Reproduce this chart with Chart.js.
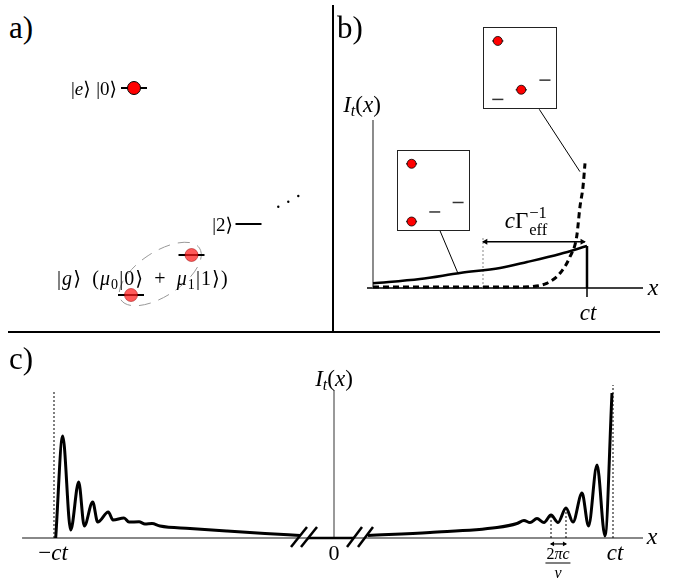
<!DOCTYPE html>
<html><head><meta charset="utf-8">
<script src="https://cdn.jsdelivr.net/npm/chart.js@4.4.1/dist/chart.umd.min.js"></script>
<style>
body{margin:0;background:#fff;width:673px;height:578px;position:relative;overflow:hidden;font-family:"Times New Roman","Liberation Serif","DejaVu Serif",serif;color:#000;}
canvas{position:absolute;}
.t{position:absolute;white-space:nowrap;line-height:1;}
.t sub{font-size:70%;vertical-align:-0.28em;line-height:0;}
.ss{display:inline-block;vertical-align:-0.42em;font-size:72%;line-height:1.0;text-align:left;margin-left:1px;}
.frac{display:inline-block;text-align:center;}
.frac .n{display:block;border-bottom:1.3px solid #000;padding:0 1px 1px 1px;}
.frac .d{display:block;padding-top:1px;}
.box{position:absolute;border:1px solid #222;background:#fff;box-sizing:border-box;}
.rule{position:absolute;background:#000;}
.sp{display:inline-block;width:0.3em;}
.sp2{display:inline-block;width:0.5em;}
</style></head><body>
<div class="rule" style="left:332px;top:5px;width:1.5px;height:327px"></div>
<div class="rule" style="left:8px;top:331px;width:652px;height:1.5px"></div>
<script>
// ---------------- DATA ----------------
// Panel c: I_t(x), x in units of ct (left front, right front)
const cLeftX  = [-0.9975,-0.9724,-0.9437,-0.9151,-0.8950,-0.8649,-0.8470,-0.8090,-0.7921,-0.7527,-0.7348,-0.6989,-0.6774,-0.6523,-0.6237,-0.5161,-0.3835,-0.2473,-0.1219];
const cLeftY  = [0,0.703,0.055,0.386,0.083,0.248,0.110,0.179,0.124,0.138,0.110,0.112,0.097,0.100,0.083,0.066,0.048,0.031,0.017];
const cRightX = [0.1219,0.3441,0.5842,0.6559,0.6810,0.7025,0.7276,0.7527,0.7778,0.8029,0.8315,0.8566,0.8889,0.9122,0.9427,0.9713,0.9964];
const cRightY = [0.017,0.038,0.072,0.100,0.121,0.107,0.134,0.107,0.159,0.107,0.207,0.110,0.310,0.083,0.503,0.014,1.0];
const cPeriodX = [0.7778,0.8315];      // two neighbouring peaks (2πc/ν)
const cPeriodY = [0.159,0.207];
const cFront = [-1.0036, 1.0];          // ±ct
// Panel b: I_t(x), x in units of ct
const bSolidX  = [0,0.2196,0.4065,0.5935,0.7196,0.8738,1.0];
const bSolidY  = [0.112,0.214,0.357,0.476,0.619,0.81,1.0];
const bDashedX = [0,0.70,0.7336,0.8115,0.8738,0.9206,0.9517,0.9673,0.9813,0.9907];
const bDashedY = [0.024,0.024,0.03,0.112,0.35,0.745,1.22,1.94,2.41,2.97];
const bDecayStart = 0.514;              // ct - cΓ_eff^-1
// insets: levels e, g, |1>, |2>
const insetLevelX = [0.20,0.20,0.517,0.837];
const insetLevelY = [0.83,0.117,0.235,0.352];
const inset1Occ = [1,1,0,0];
const inset2Occ = [1,0,1,0];
// Panel a: level scheme (e|0>, g|0>, g|1>, g|2>)
const aLevelX = [134,131,191.5,248.5];
const aLevelE = [88,295,255,224];

// ---------------- helpers ----------------
function pts(xs,ys){return xs.map((x,i)=>({x:x,y:ys[i]}));}
function line(data,o){return Object.assign({data:data,borderColor:'#000',borderWidth:1.5,pointRadius:0,fill:false,clip:false,tension:0},o||{});}
function makeChart(left,top,w,h,xr,yr,datasets,rev,plugins){
  datasets.forEach((d,i)=>{d.order=datasets.length-i;}); // first listed is drawn first (bottom)
  const cv=document.createElement('canvas');
  cv.width=w;cv.height=h;cv.style.left=left+'px';cv.style.top=top+'px';cv.style.width=w+'px';cv.style.height=h+'px';
  document.body.appendChild(cv);
  return new Chart(cv,{type:'line',data:{datasets:datasets},plugins:plugins||[],
    options:{responsive:false,animation:false,devicePixelRatio:1,events:[],layout:{padding:0,autoPadding:false},
      plugins:{legend:{display:false},tooltip:{enabled:false}},
      scales:{x:{type:'linear',display:false,min:xr[0],max:xr[1]},
              y:{type:'linear',display:false,min:yr[0],max:yr[1],reverse:!!rev}}}});
}
function label(html,x,y,size,anchor,extra){
  const d=document.createElement('div');d.className='t';d.innerHTML=html;
  d.style.fontSize=size+'px';d.style.left=x+'px';d.style.top=y+'px';
  const tx=anchor==='l'?'0':anchor==='r'?'-100%':'-50%';
  d.style.transform='translate('+tx+',-50%)';
  if(extra)Object.assign(d.style,extra);
  document.body.appendChild(d);return d;
}

// ---------------- Panel a ----------------
const aSets=[];
aLevelX.forEach((x,i)=>{aSets.push(line(pts([x-13,x+13],[aLevelE[i],aLevelE[i]]),{borderWidth:2}));});
aSets.push(line(pts([aLevelX[0]],[aLevelE[0]]),{showLine:false,pointRadius:6.5,pointBackgroundColor:'#ff0000',pointBorderColor:'#000',pointBorderWidth:1}));
aSets.push(line(pts([aLevelX[1],aLevelX[2]],[aLevelE[1],aLevelE[2]]),{showLine:false,pointRadius:6.5,pointBackgroundColor:'rgba(255,25,25,0.72)',pointBorderColor:'rgba(150,0,0,0.5)',pointBorderWidth:1}));
aSets.push(line(pts([278.3,288.3,298.3],[206.7,201.7,196]),{showLine:false,pointRadius:1.2,pointBackgroundColor:'#000',pointBorderWidth:0}));
const ellipse={id:'ell',beforeDatasetsDraw(ch){
  const X=ch.scales.x,Y=ch.scales.y,ctx=ch.ctx;
  const x0=X.getPixelForValue(aLevelX[1]),y0=Y.getPixelForValue(aLevelE[1]);
  const x1=X.getPixelForValue(aLevelX[2]),y1=Y.getPixelForValue(aLevelE[2]);
  ctx.save();ctx.setLineDash([12,8]);ctx.strokeStyle='#999';ctx.lineWidth=1;
  ctx.beginPath();ctx.ellipse((x0+x1)/2-1,(y0+y1)/2-1,47,22,Math.atan2(y1-y0,x1-x0),0,Math.PI*2);ctx.stroke();ctx.restore();}};
makeChart(0,50,330,280,[0,330],[50,330],aSets,true,[ellipse]);

// ---------------- Panel b ----------------
const bSets=[
  line(pts([-0.028,1.2617],[0,0]),{borderWidth:1.5}),
  line(pts([0,0],[0,4.0]),{borderColor:'#666',borderWidth:1.5}),
  line(pts([bDecayStart,bDecayStart],[0,1.19]),{borderColor:'#888',borderWidth:1,borderDash:[2,2]}),
  line(pts(bDashedX,bDashedY),{borderWidth:3,borderDash:[6,4],cubicInterpolationMode:'monotone'}),
  line(pts(bSolidX,bSolidY),{borderWidth:2.5,cubicInterpolationMode:'monotone'}),
  line(pts([1,1],[1,0]),{borderWidth:2.5}),
  line(pts([1,1],[0,-0.214]),{borderWidth:1.5}),
  line(pts([bDecayStart,0.99],[1.102,1.102]),{borderWidth:1.5}),
  line(pts([bDecayStart+0.012],[1.102]),{showLine:false,pointStyle:'triangle',rotation:-90,pointRadius:3.5,pointBackgroundColor:'#000',pointBorderWidth:0}),
  line(pts([0.978],[1.102]),{showLine:false,pointStyle:'triangle',rotation:90,pointRadius:3.5,pointBackgroundColor:'#000',pointBorderWidth:0}),
  line(pts([0.313,0.3986],[1.364,0.33]),{borderWidth:1}),
  line(pts([0.777,0.967],[4.255,2.77]),{borderWidth:1})
];
makeChart(335,20,338,300,[-0.17757,1.40187],[-0.7619,6.38095],bSets);

function inset(left,top,w,h,occ){
  const b=document.createElement('div');b.className='box';
  Object.assign(b.style,{left:left+'px',top:top+'px',width:w+'px',height:h+'px'});
  document.body.appendChild(b);
  const s=[];
  insetLevelX.forEach((x,i)=>{s.push(line(pts([x-0.075,x+0.075],[insetLevelY[i],insetLevelY[i]]),{borderColor:'#333',borderWidth:1.5}));});
  const ox=[],oy=[];occ.forEach((o,i)=>{if(o){ox.push(insetLevelX[i]);oy.push(insetLevelY[i]);}});
  s.push(line(pts(ox,oy),{showLine:false,pointRadius:4.5,pointBackgroundColor:'#ff0000',pointBorderColor:'#000',pointBorderWidth:0.8}));
  makeChart(left,top,w,h,[0,1],[0,1],s);
}
inset(397,150,73,81,inset1Occ);
inset(483,27,74,82,inset2Occ);

// ---------------- Panel c ----------------
const cSets=[
  line(pts([-1.118,1.1075],[0,0]),{borderColor:'#888',borderWidth:2}),
  line(pts([0,0],[0,1.021]),{borderColor:'#777',borderWidth:1.5}),
  line(pts([cFront[0],cFront[0]],[0,1.02]),{borderWidth:1,borderDash:[2,2]}),
  line(pts([cFront[1],cFront[1]],[0,1.055]),{borderWidth:1,borderDash:[2,2]}),
  line(pts([cPeriodX[0],cPeriodX[0]],[0,cPeriodY[0]]),{borderWidth:1,borderDash:[2,2]}),
  line(pts([cPeriodX[1],cPeriodX[1]],[0,cPeriodY[1]]),{borderWidth:1,borderDash:[2,2]}),
  line(pts(cPeriodX,[-0.041,-0.041]),{borderWidth:1.2}),
  line(pts([cPeriodX[0]+0.006],[-0.041]),{showLine:false,pointStyle:'triangle',rotation:-90,pointRadius:2.8,pointBackgroundColor:'#000',pointBorderWidth:0}),
  line(pts([cPeriodX[1]-0.006],[-0.041]),{showLine:false,pointStyle:'triangle',rotation:90,pointRadius:2.8,pointBackgroundColor:'#000',pointBorderWidth:0}),
  line(pts([-0.0932,0.0717],[0,0]),{borderWidth:2.5}),
  line(pts(cLeftX,cLeftY),{borderWidth:3,cubicInterpolationMode:'monotone'}),
  line(pts(cRightX,cRightY),{borderWidth:3,cubicInterpolationMode:'monotone'}),
  line(pts([-0.1541,-0.0968],[-0.062,0.0759]),{borderWidth:2.5}),
  line(pts([-0.1183,-0.0609],[-0.062,0.0759]),{borderWidth:2.5}),
  line(pts([0.0466,0.1004],[-0.062,0.0759]),{borderWidth:2.5}),
  line(pts([0.0860,0.1398],[-0.062,0.0759]),{borderWidth:2.5})
];
makeChart(0,370,673,200,[-1.19713,1.21505],[-0.22069,1.15862],cSets);

// ---------------- Text ----------------
const It='<i>I</i><sub><i>t</i></sub>(<i>x</i>)';
label('a)',9,27,31,'l');
label('b)',337,27,31,'l');
label('c)',9,358,31,'l');
label('|<i>e</i>⟩<span class="sp"></span>|0⟩',117,88,19,'r');
label('|2⟩',233,224,19,'r');
label('|<i>g</i>⟩<span class="sp2"></span>(<i>μ</i><sub>0</sub>|0⟩<span class="sp2"></span>+<span class="sp2"></span><i>μ</i><sub>1</sub>|1⟩)',57,278,20,'l',{letterSpacing:'1.1px'});
label(It,362,104,23,'c');
label('<i>c</i>Γ<span class="ss">−1<br>eff</span>',526,222,23,'c');
label('<i>x</i>',653,287,24,'c');
label('<i>ct</i>',588,312,23,'c');
label(It,334,378,23,'c');
label('−<i>ct</i>',53,552,23,'c');
label('0',334,553,22,'c');
label('<i>ct</i>',615,552,23,'c');
label('<i>x</i>',652,536,24,'c');
label('<span class="frac"><span class="n">2<i>πc</i></span><span class="d"><i>ν</i></span></span>',558,563,16,'c');
</script>
</body></html>
